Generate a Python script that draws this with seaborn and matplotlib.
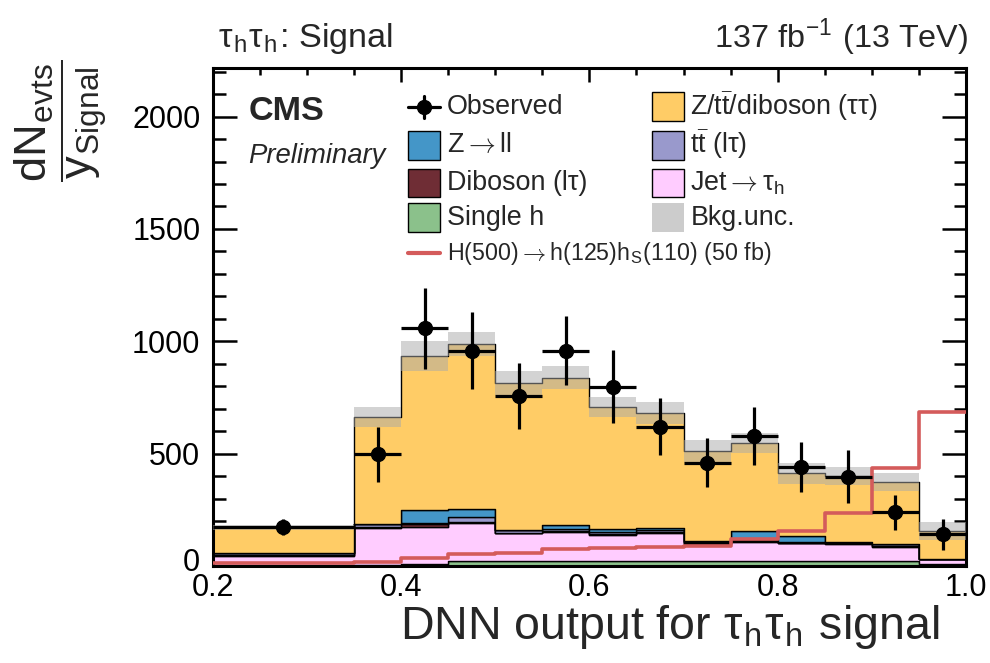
import numpy as np
import pandas as pd
import matplotlib
matplotlib.use("Agg")
import matplotlib.pyplot as plt
import matplotlib.transforms as mtransforms
import seaborn as sns
from matplotlib import font_manager
from matplotlib.patches import Rectangle
from matplotlib.lines import Line2D
from matplotlib.ticker import MultipleLocator

# ---------------- data ----------------
edges = [0.2, 0.35, 0.4, 0.45, 0.5, 0.55, 0.6, 0.65, 0.7, 0.75, 0.8, 0.85, 0.9, 0.95, 1.0]
observed = [175, 498, 1058, 958, 758, 958, 798, 620, 460, 579, 439, 397, 240, 141]
observed_err = [35, 122, 180, 172, 147, 153, 163, 128, 110, 130, 111, 118, 78, 70]
single_h = [4, 3, 10, 22, 22, 22, 22, 22, 22, 22, 22, 22, 22, 10]
jet_fakes = [40, 167, 165, 171, 124, 131, 116, 126, 76, 86, 79, 76, 64, 20]
diboson_lt = [6, 5, 12, 3, 3, 3, 4, 3, 3, 3, 3, 3, 3, 1]
ttbar_lt = [6, 10, 3, 23, 11, 9, 8, 7, 8, 5, 5, 5, 8, 2]
z_ll = [0, 3, 59, 36, 0, 17, 15, 13, 2, 41, 25, 2, 0, 0]
z_tautau = [116, 474, 686, 732, 656, 656, 544, 508, 401, 389, 278, 292, 278, 124]
bkg_unc = [10, 44, 67, 53, 53, 52, 44, 49, 49, 44, 45, 40, 40, 40]
signal = [15, 20, 34, 53, 56, 74, 79, 83, 89, 119, 157, 237, 435, 684]

x_ticks = [0.2, 0.4, 0.6, 0.8, 1.0]
x_ticklabels = ["0.2", "0.4", "0.6", "0.8", "1.0"]
y_ticks = [0, 500, 1000, 1500, 2000]

# ---------------- style ----------------
sns.set_style("ticks")
names = {f.name for f in font_manager.fontManager.ttflist}
FONT = "Liberation Sans Narrow" if "Liberation Sans Narrow" in names else "Liberation Sans"
SC = 1.0 if FONT == "Liberation Sans Narrow" else 0.88
plt.rcParams["font.family"] = [FONT, "DejaVu Sans"]
plt.rcParams["mathtext.fontset"] = "cm"

col = {
    "Z/tt/diboson (tautau)": "#ffcc66",
    "Z->ll": "#4496c8",
    "tt (ltau)": "#9999cc",
    "Diboson (ltau)": "#6f2d35",
    "Jet->tauh": "#ffccff",
    "Single h": "#8bc18b",
}
sig_col = "#d45b5b"

edges_a = np.array(edges)
centers = 0.5 * (edges_a[1:] + edges_a[:-1])
halfw = 0.5 * (edges_a[1:] - edges_a[:-1])

procs = [
    ("Single h", single_h),
    ("Jet->tauh", jet_fakes),
    ("Diboson (ltau)", diboson_lt),
    ("tt (ltau)", ttbar_lt),
    ("Z->ll", z_ll),
    ("Z/tt/diboson (tautau)", z_tautau),
]
rows = []
for name, vals in procs:
    for c, v in zip(centers, vals):
        rows.append({"x": c, "w": v, "process": name})
df = pd.DataFrame(rows)
hue_order = [p[0] for p in procs][::-1]  # first level ends on top

fig = plt.figure(figsize=(9.9, 6.63), dpi=100)
ax = fig.add_axes([0.2149, 0.1463, 0.7609, 0.7511])

sns.histplot(data=df, x="x", weights="w", hue="process", hue_order=hue_order,
             multiple="stack", bins=edges, element="step", palette=col,
             edgecolor="black", linewidth=1.0, alpha=1, legend=False, ax=ax)

total = np.sum([np.array(v) for _, v in procs], axis=0)
unc = np.array(bkg_unc)
ax.stairs(total + unc, edges, baseline=total - unc, fill=True,
          color="#a9a9a9", alpha=0.5, lw=0, zorder=3)

sns.histplot(x=centers, weights=signal, bins=edges, element="step", fill=False,
             color=sig_col, linewidth=2.6, ax=ax, zorder=4)

ax.errorbar(centers, observed, xerr=halfw, yerr=observed_err, fmt="o", color="black",
            ms=10, elinewidth=2.3, capsize=0, zorder=6)

# ---------------- axes ----------------
ax.set_xlim(0.2, 1.0)
ax.set_ylim(0, 2216)
ax.set_xticks(x_ticks)
ax.set_xticklabels(x_ticklabels)
ax.set_yticks(y_ticks)
ax.xaxis.set_minor_locator(MultipleLocator(0.05))
ax.yaxis.set_minor_locator(MultipleLocator(100))
for s in ax.spines.values():
    s.set_linewidth(2.2)
    s.set_color("black")
ax.tick_params(which="both", direction="in", top=True, right=True, width=1.8,
               labelsize=25 * SC, colors="black")
ax.tick_params(axis="y", which="major", length=17, pad=9)
ax.tick_params(axis="y", which="minor", length=9)
ax.tick_params(axis="x", which="major", length=10, pad=5)
ax.tick_params(axis="x", which="minor", length=5)

# nudge the "0" y label up a little so it does not collide with "0.2"
t0 = ax.yaxis.get_major_ticks()[0].label1
t0.set_transform(t0.get_transform() +
                 mtransforms.ScaledTranslation(0, 7 / 100, fig.dpi_scale_trans))

ax.set_xlabel(r"DNN output for τ$_{\mathregular{h}}$τ$_{\mathregular{h}}$ signal",
              fontsize=38 * SC, loc="right")
ax.xaxis.set_label_coords(0.965, -0.074)
ax.set_ylabel(r"$\dfrac{\mathregular{dN}_{\mathregular{evts}}}{\mathregular{y}_{\mathregular{Signal}}}$",
              fontsize=37 * SC, loc="top")
ax.yaxis.set_label_coords(-0.137, 1.018)

ax.text(0.007, 1.042, r"τ$_{\mathregular{h}}$τ$_{\mathregular{h}}$: Signal", transform=ax.transAxes,
        fontsize=28 * SC, va="baseline", ha="left")
ax.text(1.003, 1.042, r"137 fb$^{\mathregular{-1}}$ (13 TeV)", transform=ax.transAxes,
        fontsize=26.5 * SC, va="baseline", ha="right")
ax.text(0.047, 0.912, "CMS", transform=ax.transAxes, fontsize=28 * SC,
        fontweight="bold", va="center")
ax.text(0.047, 0.823, "Preliminary", transform=ax.transAxes, fontsize=22.5 * SC,
        fontstyle="italic", va="center")

# ---------------- legend (manual, two columns) ----------------
rows_y = [0.922, 0.845, 0.769, 0.699]
ph = 0.058
lx, rx, pw = 0.259, 0.583, 0.043
tfs = 22 * SC

def patch(x0, yc, color, edge=True):
    ax.add_patch(Rectangle((x0, yc - ph / 2), pw, ph, transform=ax.transAxes,
                           facecolor=color, edgecolor="black" if edge else "none",
                           linewidth=1.0, zorder=7))

# Observed
yc = rows_y[0]
ax.add_line(Line2D([lx, lx + pw], [yc, yc], transform=ax.transAxes, color="black", lw=2.3, zorder=7))
ax.add_line(Line2D([lx + pw / 2] * 2, [yc - 0.022, yc + 0.022], transform=ax.transAxes,
                   color="black", lw=2.3, zorder=7))
ax.add_line(Line2D([lx + pw / 2], [yc], transform=ax.transAxes, marker="o", ms=10,
                   color="black", zorder=8))
ax.text(lx + 0.052, yc, "Observed", transform=ax.transAxes, fontsize=tfs, va="center")

left_entries = [(r"Z$\rightarrow$ll", col["Z->ll"]), ("Diboson (lτ)", col["Diboson (ltau)"]),
                ("Single h", col["Single h"])]
for (lab, c), y in zip(left_entries, rows_y[1:]):
    patch(lx, y, c)
    ax.text(lx + 0.052, y, lab, transform=ax.transAxes, fontsize=tfs, va="center")

right_entries = [(r"Z/t$\bar{\mathregular{t}}$/diboson (ττ)", col["Z/tt/diboson (tautau)"], True),
                 (r"t$\bar{\mathregular{t}}$ (lτ)", col["tt (ltau)"], True),
                 (r"Jet$\rightarrow$τ$_{\mathregular{h}}$", col["Jet->tauh"], True),
                 ("Bkg.unc.", "#cccccc", False)]
for (lab, c, e), y in zip(right_entries, rows_y):
    patch(rx, y, c, e)
    ax.text(rx + 0.051, y, lab, transform=ax.transAxes, fontsize=tfs, va="center")

sy = 0.628
ax.add_line(Line2D([lx, lx + pw], [sy, sy], transform=ax.transAxes, color=sig_col, lw=3, zorder=7))
ax.text(lx + 0.052, sy, r"H(500)$\rightarrow$h(125)h$_{\mathregular{S}}$(110) (50 fb)",
        transform=ax.transAxes, fontsize=19 * SC, va="center")

fig.savefig("out.png", dpi=100)
